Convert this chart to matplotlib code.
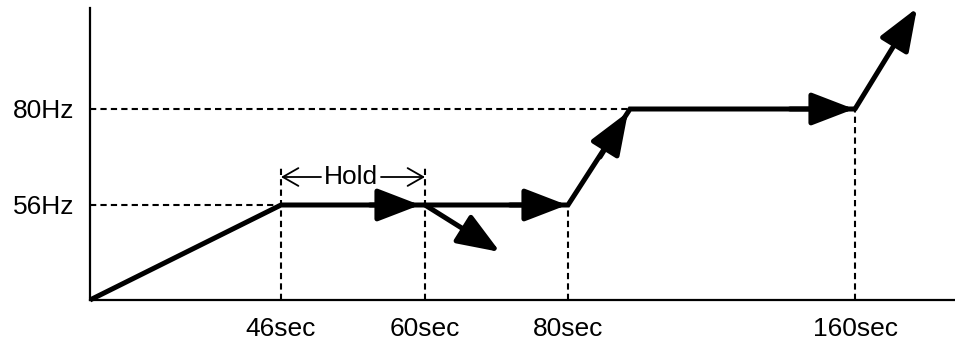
import matplotlib
matplotlib.use("Agg")
import matplotlib.pyplot as plt

plt.rcParams["font.family"] = ["Liberation Sans", "DejaVu Sans"]

# schematic positions (diagram is not to scale)
x_ticks = [191, 335, 478, 765]
x_labels = ["46sec", "60sec", "80sec", "160sec"]
y_ticks = [95, 191]
y_labels = ["56Hz", "80Hz"]

# frequency profile: start, reach 56Hz, hold, ramp to 80Hz, hold, ramp up
ramp_x = [0, 191, 478, 540, 765, 827]
ramp_y = [0, 95, 95, 191, 191, 292]

# deceleration branch after the hold
branch_x = [335, 410]
branch_y = [95, 48]

# arrowheads sitting on the path (tip positions)
head_tips = [(330, 95), (477, 95), (538, 188), (764, 191)]
head_from = [(280, 95), (420, 95), (510, 143), (700, 191)]

hold_y = 123
dash_top = [135, 135, 95, 191]

FS = 19
LW = 3.6
HEAD = "-|>,head_length=0.65,head_width=0.25"

fig = plt.figure(figsize=(9.55, 3.45), dpi=100)
ax = fig.add_axes([0, 0, 1, 1])
ax.set_xlim(-90, 865)
ax.set_ylim(-45, 300)

# axes lines
for s in ["top", "right"]:
    ax.spines[s].set_visible(False)
ax.spines["left"].set_position(("data", 0))
ax.spines["left"].set_bounds(0, 292)
ax.spines["bottom"].set_position(("data", 0))
ax.spines["bottom"].set_bounds(0, 865)
ax.spines["left"].set_linewidth(1.6)
ax.spines["bottom"].set_linewidth(1.6)

ax.set_xticks(x_ticks, x_labels, fontsize=FS)
ax.set_yticks(y_ticks, y_labels, fontsize=FS)
ax.tick_params(axis="x", length=0, pad=12)
ax.tick_params(axis="y", length=0, pad=11)

# dashed guide lines
dash = dict(color="black", lw=1.5, ls=(0, (3, 2)))
ax.plot([0, ramp_x[3]], [y_ticks[1], y_ticks[1]], **dash)
ax.plot([0, x_ticks[0]], [y_ticks[0], y_ticks[0]], **dash)
for xt, top in zip(x_ticks, dash_top):
    ax.plot([xt, xt], [0, top], **dash)

# main profile
ax.plot(ramp_x[:-1], ramp_y[:-1], color="black", lw=LW, solid_joinstyle="miter",
        solid_capstyle="butt")
ax.annotate("", xy=(ramp_x[-1], ramp_y[-1]), xytext=(ramp_x[-2], ramp_y[-2]),
            arrowprops=dict(arrowstyle=HEAD, color="black", lw=LW,
                            shrinkA=0, shrinkB=0, mutation_scale=40))
ax.annotate("", xy=(branch_x[1], branch_y[1]), xytext=(branch_x[0], branch_y[0]),
            arrowprops=dict(arrowstyle=HEAD, color="black", lw=LW,
                            shrinkA=0, shrinkB=0, mutation_scale=40))
for tip, src in zip(head_tips, head_from):
    ax.annotate("", xy=tip, xytext=src,
                arrowprops=dict(arrowstyle=HEAD, color="black", lw=LW,
                                shrinkA=0, shrinkB=0, mutation_scale=40))

# hold annotation
hold_arrow = dict(arrowstyle="->,head_length=0.7,head_width=0.4",
                  color="black", lw=1.3, shrinkA=0, shrinkB=0, mutation_scale=16)
ax.annotate("", xy=(x_ticks[0], hold_y), xytext=(231, hold_y), arrowprops=hold_arrow)
ax.annotate("", xy=(x_ticks[1], hold_y), xytext=(291, hold_y), arrowprops=hold_arrow)
ax.text(261, hold_y, "Hold", ha="center", va="center", fontsize=FS)

fig.savefig("out.png", dpi=100)
